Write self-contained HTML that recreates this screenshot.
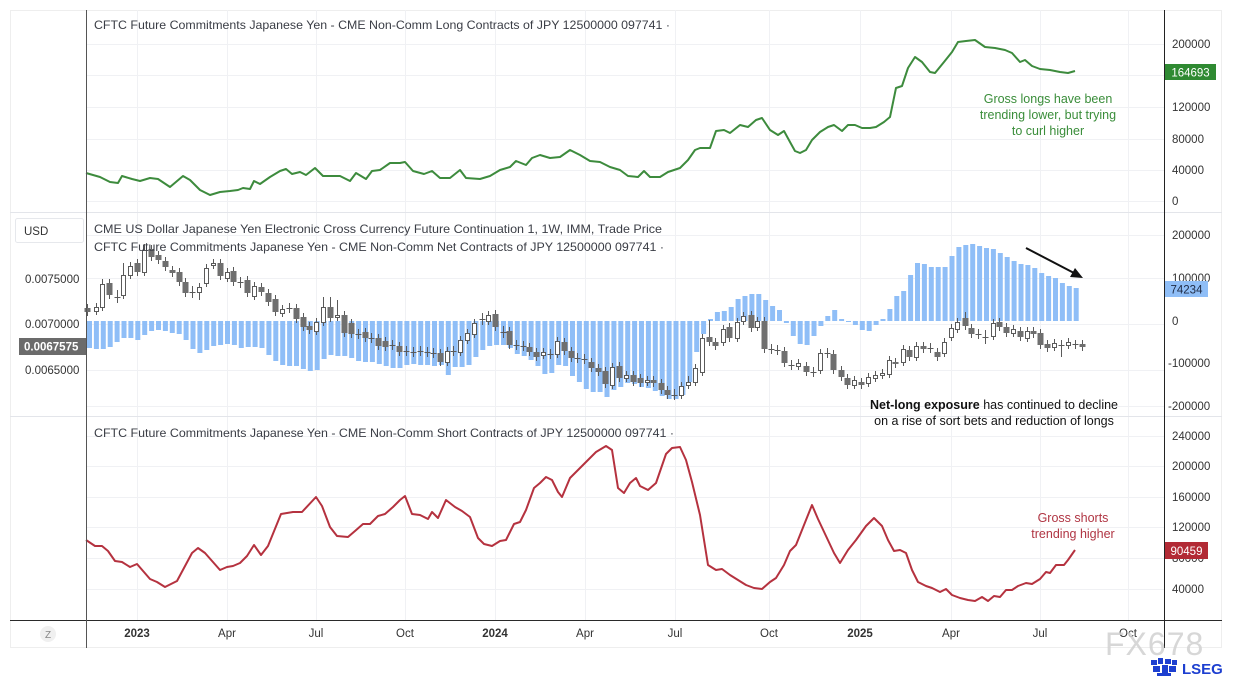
<!DOCTYPE html>
<html><head><meta charset="utf-8">
<style>
html,body{margin:0;padding:0;background:#fff;}
svg{display:block;font-family:"Liberation Sans",Arial,sans-serif;}
</style></head>
<body>
<svg width="1233" height="678" viewBox="0 0 1233 678" xmlns="http://www.w3.org/2000/svg">
<rect x="0" y="0" width="1233" height="678" fill="#fff"/>
<rect x="10.5" y="10.5" width="1211" height="637" fill="none" stroke="#eeeeee"/>
<g stroke="#f0f1f4" stroke-width="1">
<line x1="137.5" y1="10" x2="137.5" y2="620"/><line x1="227.5" y1="10" x2="227.5" y2="620"/><line x1="316.5" y1="10" x2="316.5" y2="620"/><line x1="405.5" y1="10" x2="405.5" y2="620"/><line x1="495.5" y1="10" x2="495.5" y2="620"/><line x1="585.5" y1="10" x2="585.5" y2="620"/><line x1="675.5" y1="10" x2="675.5" y2="620"/><line x1="769.5" y1="10" x2="769.5" y2="620"/><line x1="860.5" y1="10" x2="860.5" y2="620"/><line x1="951.5" y1="10" x2="951.5" y2="620"/><line x1="1040.5" y1="10" x2="1040.5" y2="620"/><line x1="1128.5" y1="10" x2="1128.5" y2="620"/>
<line x1="86" y1="44.5" x2="1164" y2="44.5"/><line x1="86" y1="75.5" x2="1164" y2="75.5"/><line x1="86" y1="107.5" x2="1164" y2="107.5"/><line x1="86" y1="139.5" x2="1164" y2="139.5"/><line x1="86" y1="170.5" x2="1164" y2="170.5"/><line x1="86" y1="201.5" x2="1164" y2="201.5"/>
<line x1="86" y1="235.5" x2="1164" y2="235.5"/><line x1="86" y1="278.5" x2="1164" y2="278.5"/><line x1="86" y1="324.5" x2="1164" y2="324.5"/><line x1="86" y1="370.5" x2="1164" y2="370.5"/><line x1="86" y1="406.5" x2="1164" y2="406.5"/>
<line x1="86" y1="436.5" x2="1164" y2="436.5"/><line x1="86" y1="466.5" x2="1164" y2="466.5"/><line x1="86" y1="497.5" x2="1164" y2="497.5"/><line x1="86" y1="527.5" x2="1164" y2="527.5"/><line x1="86" y1="558.5" x2="1164" y2="558.5"/><line x1="86" y1="589.5" x2="1164" y2="589.5"/>
</g>

<!-- net bars -->
<path fill="#8fbef7" d="M87 321V348h5V321zM93.9 321V349h5V321zM100.8 321V349h5V321zM107.7 321V347h5V321zM114.6 321V342h5V321zM121.5 321V338h5V321zM128.4 321V338h5V321zM135.3 321V340h5V321zM142.2 321V335h5V321zM149.1 321V331h5V321zM156 321V330h5V321zM162.9 321V331h5V321zM169.8 321V333h5V321zM176.7 321V334h5V321zM183.6 321V340h5V321zM190.5 321V349h5V321zM197.4 321V353h5V321zM204.3 321V350h5V321zM211.2 321V346h5V321zM218.1 321V345h5V321zM225 321V344h5V321zM231.9 321V345h5V321zM238.8 321V348h5V321zM245.7 321V347h5V321zM252.6 321V347h5V321zM259.5 321V348h5V321zM266.4 321V355h5V321zM273.3 321V361h5V321zM280.2 321V365h5V321zM287.1 321V366h5V321zM294 321V366h5V321zM300.9 321V369h5V321zM307.8 321V371h5V321zM314.7 321V370h5V321zM321.6 321V359h5V321zM328.5 321V355h5V321zM335.4 321V356h5V321zM342.3 321V356h5V321zM349.2 321V358h5V321zM356.1 321V361h5V321zM363 321V362h5V321zM369.9 321V362h5V321zM376.8 321V364h5V321zM383.7 321V366h5V321zM390.6 321V368h5V321zM397.5 321V368h5V321zM404.4 321V365h5V321zM411.3 321V364h5V321zM418.2 321V365h5V321zM425.1 321V365h5V321zM432 321V366h5V321zM438.9 321V365h5V321zM445.8 321V375h5V321zM452.7 321V367h5V321zM459.6 321V367h5V321zM466.5 321V365h5V321zM473.4 321V357h5V321zM480.3 321V350h5V321zM487.2 321V346h5V321zM494.1 321V345h5V321zM501 321V345h5V321zM507.9 321V348h5V321zM514.8 321V354h5V321zM521.7 321V356h5V321zM528.6 321V360h5V321zM535.5 321V366h5V321zM542.4 321V374h5V321zM549.3 321V373h5V321zM556.2 321V365h5V321zM563.1 321V366h5V321zM570 321V376h5V321zM576.9 321V382h5V321zM583.8 321V389h5V321zM590.7 321V392h5V321zM597.6 321V392h5V321zM604.5 321V397h5V321zM611.4 321V390h5V321zM618.3 321V387h5V321zM625.2 321V383h5V321zM632.1 321V384h5V321zM639 321V387h5V321zM645.9 321V388h5V321zM652.8 321V391h5V321zM659.7 321V396h5V321zM666.6 321V399h5V321zM673.5 321V399h5V321zM680.4 321V395h5V321zM687.3 321V382h5V321zM694.2 321V352h5V321zM701.1 321V334h5V321zM708 321V319h5V321zM714.9 321V312h5V321zM721.8 321V311h5V321zM728.7 321V307h5V321zM735.6 321V299h5V321zM742.5 321V296h5V321zM749.4 321V294h5V321zM756.3 321V294h5V321zM763.2 321V300h5V321zM770.1 321V306h5V321zM777 321V310h5V321zM783.9 321V323h5V321zM790.8 321V336h5V321zM797.7 321V344h5V321zM804.6 321V345h5V321zM811.5 321V336h5V321zM818.4 321V326h5V321zM825.3 321V316h5V321zM832.2 321V310h5V321zM839.1 321V319h5V321zM846 321V322h5V321zM852.9 321V325h5V321zM859.8 321V330h5V321zM866.7 321V331h5V321zM873.6 321V325h5V321zM880.5 321V319h5V321zM887.4 321V309h5V321zM894.3 321V296h5V321zM901.2 321V291h5V321zM908.1 321V275h5V321zM915 321V263h5V321zM921.9 321V264h5V321zM928.8 321V267h5V321zM935.7 321V267h5V321zM942.6 321V267h5V321zM949.5 321V256h5V321zM956.4 321V247h5V321zM963.3 321V245h5V321zM970.2 321V244h5V321zM977.1 321V246h5V321zM984 321V248h5V321zM990.9 321V249h5V321zM997.8 321V253h5V321zM1004.7 321V257h5V321zM1011.6 321V261h5V321zM1018.5 321V264h5V321zM1025.4 321V265h5V321zM1032.3 321V268h5V321zM1039.2 321V273h5V321zM1046.1 321V276h5V321zM1053 321V278h5V321zM1059.9 321V283h5V321zM1066.8 321V286h5V321zM1073.7 321V288h5V321z"/>

<!-- candle wicks -->
<path fill="none" stroke="#5a5a5a" stroke-width="1" d="M87.5 304V316M96.5 303V315M102.5 279V311M109.5 279V299M117.5 290V303M123.5 263V299M130.5 262V279M137.5 259V276M144.5 244V276M151.5 245V261M158.5 251V264M165.5 257V271M172.5 266V277M179.5 268V286M185.5 278V297M192.5 286V298M199.5 283V300M206.5 264V287M213.5 259V269M220.5 259V280M227.5 268V282M233.5 267V286M240.5 277V288M247.5 276V297M254.5 282V300M261.5 283V296M268.5 289V306M275.5 295V316M282.5 305V317M289.5 303V313M296.5 304V323M303.5 313V331M309.5 322V334M316.5 318V335M323.5 297V326M330.5 297V322M337.5 300V321M344.5 311V337M351.5 319V338M358.5 329V339M365.5 328V342M371.5 333V343M378.5 334V350M385.5 337V351M392.5 340V350M399.5 342V356M406.5 346V356M413.5 347V357M420.5 346V356M427.5 347V357M433.5 348V358M440.5 349V366M447.5 347V366M453.5 346V356M460.5 336V356M467.5 329V344M474.5 319V338M482.5 313V325M488.5 311V325M495.5 310V331M503.5 326V338M509.5 327V349M516.5 340V350M523.5 341V351M529.5 343V356M536.5 348V361M543.5 348V359M550.5 349V359M557.5 337V358M564.5 338V355M571.5 347V362M577.5 353V363M584.5 354V364M591.5 358V372M598.5 364V376M605.5 367V388M612.5 363V389M619.5 362V382M626.5 371V382M633.5 371V386M640.5 374V387M647.5 376V386M653.5 376V387M661.5 379V394M667.5 386V399M674.5 389V400M681.5 382V399M688.5 376V389M695.5 364V386M702.5 334V376M709.5 320V346M715.5 338V350M723.5 325V346M729.5 323V342M737.5 318V342M743.5 312V325M751.5 311V332M757.5 317V331M764.5 317V353M771.5 344V354M777.5 345V355M784.5 347V367M791.5 360V370M798.5 359V370M806.5 362V376M813.5 367V377M820.5 349V374M827.5 348V358M833.5 350V374M841.5 366V381M847.5 374V389M854.5 376V389M861.5 378V389M868.5 373V387M875.5 371V382M882.5 369V379M889.5 356V378M895.5 358V368M903.5 345V366M909.5 346V361M916.5 342V361M923.5 342V353M930.5 343V353M937.5 348V361M944.5 338V357M951.5 324V341M957.5 318V333M965.5 312V330M971.5 324V338M978.5 329V339M985.5 330V344M993.5 319V340M999.5 318V331M1006.5 323V337M1013.5 325V337M1020.5 327V341M1027.5 327V342M1033.5 327V338M1040.5 329V349M1047.5 340V352M1054.5 339V351M1061.5 340V357M1068.5 338V349M1075.5 340V349M1082.5 340V351"/>
<!-- crosses -->
<path fill="none" stroke="#5a5a5a" stroke-width="1" d="M114.5 297.5h6M189.5 292.5h6M237.5 282.5h6M286.5 308.5h6M355.5 334.5h6M368.5 338.5h6M389.5 345.5h6M403.5 351.5h6M410.5 352.5h6M417.5 351.5h6M424.5 352.5h6M430.5 353.5h6M450.5 351.5h6M479.5 319.5h6M500.5 332.5h6M513.5 345.5h6M520.5 346.5h6M547.5 354.5h6M574.5 358.5h6M581.5 359.5h6M671.5 395.5h6M768.5 349.5h6M774.5 350.5h6M788.5 365.5h6M810.5 372.5h6M824.5 353.5h6M927.5 348.5h6M975.5 334.5h6M982.5 337.5h6M1058.5 345.5h6M1072.5 344.5h6"/>
<!-- dark bodies -->
<path fill="#6f6f6f" d="M84.5 308h6V312h-6zM106.5 283h6V295h-6zM134.5 263h6V272h-6zM148.5 249h6V257h-6zM155.5 255h6V260h-6zM162.5 261h6V267h-6zM169.5 270h6V273h-6zM176.5 272h6V282h-6zM182.5 282h6V293h-6zM217.5 263h6V276h-6zM230.5 271h6V282h-6zM244.5 280h6V293h-6zM258.5 287h6V292h-6zM265.5 293h6V302h-6zM272.5 299h6V312h-6zM293.5 308h6V319h-6zM300.5 317h6V327h-6zM306.5 326h6V330h-6zM327.5 307h6V318h-6zM341.5 315h6V333h-6zM348.5 323h6V334h-6zM362.5 332h6V338h-6zM375.5 338h6V346h-6zM382.5 341h6V347h-6zM396.5 346h6V352h-6zM437.5 353h6V362h-6zM492.5 314h6V327h-6zM506.5 331h6V345h-6zM526.5 347h6V352h-6zM533.5 352h6V357h-6zM561.5 342h6V351h-6zM568.5 351h6V358h-6zM588.5 362h6V368h-6zM595.5 368h6V372h-6zM602.5 371h6V384h-6zM616.5 366h6V378h-6zM630.5 375h6V382h-6zM637.5 378h6V383h-6zM650.5 380h6V383h-6zM658.5 383h6V390h-6zM664.5 390h6V395h-6zM706.5 337h6V342h-6zM712.5 342h6V346h-6zM726.5 327h6V338h-6zM748.5 315h6V328h-6zM761.5 321h6V349h-6zM781.5 351h6V363h-6zM803.5 366h6V372h-6zM830.5 354h6V370h-6zM838.5 370h6V377h-6zM844.5 378h6V385h-6zM858.5 382h6V385h-6zM892.5 362h6V364h-6zM906.5 350h6V357h-6zM920.5 346h6V349h-6zM934.5 352h6V357h-6zM962.5 318h6V326h-6zM968.5 328h6V334h-6zM996.5 322h6V327h-6zM1003.5 327h6V333h-6zM1017.5 331h6V337h-6zM1030.5 331h6V334h-6zM1037.5 333h6V345h-6zM1044.5 344h6V348h-6zM1079.5 344h6V347h-6z"/>
<!-- white bodies -->
<path fill="#fff" stroke="#5a5a5a" stroke-width="1" d="M94.5 307.5h4V311.5h-4zM100.5 284.5h4V307.5h-4zM121.5 275.5h4V295.5h-4zM128.5 266.5h4V275.5h-4zM142.5 250.5h4V272.5h-4zM197.5 287.5h4V292.5h-4zM204.5 268.5h4V283.5h-4zM211.5 263.5h4V265.5h-4zM225.5 272.5h4V278.5h-4zM252.5 286.5h4V296.5h-4zM280.5 309.5h4V313.5h-4zM314.5 322.5h4V331.5h-4zM321.5 307.5h4V322.5h-4zM335.5 315.5h4V317.5h-4zM445.5 351.5h4V362.5h-4zM458.5 340.5h4V352.5h-4zM465.5 333.5h4V340.5h-4zM472.5 323.5h4V334.5h-4zM486.5 315.5h4V321.5h-4zM541.5 352.5h4V355.5h-4zM555.5 341.5h4V354.5h-4zM610.5 367.5h4V385.5h-4zM624.5 375.5h4V378.5h-4zM645.5 380.5h4V382.5h-4zM679.5 386.5h4V395.5h-4zM686.5 382.5h4V385.5h-4zM693.5 368.5h4V382.5h-4zM700.5 338.5h4V372.5h-4zM721.5 329.5h4V342.5h-4zM735.5 322.5h4V338.5h-4zM741.5 316.5h4V321.5h-4zM755.5 321.5h4V327.5h-4zM796.5 363.5h4V366.5h-4zM818.5 353.5h4V370.5h-4zM852.5 380.5h4V385.5h-4zM866.5 377.5h4V383.5h-4zM873.5 375.5h4V378.5h-4zM880.5 373.5h4V375.5h-4zM887.5 360.5h4V374.5h-4zM901.5 349.5h4V362.5h-4zM914.5 346.5h4V357.5h-4zM942.5 342.5h4V353.5h-4zM949.5 328.5h4V337.5h-4zM955.5 322.5h4V329.5h-4zM991.5 323.5h4V336.5h-4zM1011.5 329.5h4V333.5h-4zM1025.5 331.5h4V338.5h-4zM1052.5 343.5h4V347.5h-4zM1066.5 342.5h4V345.5h-4z"/>

<polyline fill="none" stroke="#3d8b3d" stroke-width="2" stroke-linejoin="round" points="86,173 100,177 110,182 118,183 122,176 132,179 140,181 150,178 158,179 170,187 183,176 190,180 200,190 210,195 220,192 230,191 238,190 243,188 250,189 254,181 260,184 270,177 280,171 286,169 292,174 300,172 306,175 315,168 323,176 332,176 340,176 350,181 356,173 366,179 372,171 380,170 390,163 400,163 405,162 413,171 424,174 432,171 440,178 450,178 460,170 466,178 480,179 490,176 500,170 510,167 516,161 526,165 532,158 540,155 550,158 560,157 570,150 580,155 590,161 600,162 610,167 620,170 628,176 638,177 644,171 650,177 660,177 668,172 680,168 688,160 695,150 700,148 710,148 716,131 724,130 730,133 740,125 748,127 756,120 762,118 770,130 778,135 784,131 790,142 795,151 800,153 806,150 812,140 820,132 828,127 834,125 842,131 848,125 855,125 862,128 870,128 876,127 884,122 890,117 896,88 902,86 908,68 915,57 922,62 930,72 935,73 944,62 952,52 958,42 966,41 975,40 985,47 995,48 1005,50 1012,53 1020,62 1025,60 1032,66 1040,69 1050,70 1060,72 1068,73 1075,71"/>
<polyline fill="none" stroke="#b5323f" stroke-width="2" stroke-linejoin="round" points="86,540 95,546 102,546 108,551 115,561 122,562 130,567 137,564 150,579 157,582 165,587 177,581 192,553 198,548 205,553 220,570 227,567 233,566 240,563 247,556 254,545 261,555 268,546 281,514 293,512 302,512 316,497 322,506 330,527 337,536 348,537 355,531 363,524 370,524 378,516 385,514 393,507 400,500 405,496 412,514 420,515 428,519 432,512 438,518 446,500 455,507 462,511 470,517 478,538 484,544 492,546 500,541 506,540 514,524 520,522 526,510 534,488 540,483 546,477 552,480 558,492 562,497 570,478 580,468 590,458 596,452 606,446 612,450 618,488 624,493 630,483 636,478 640,486 648,490 656,483 666,454 672,448 680,447 686,460 692,482 700,515 708,565 716,570 722,569 730,575 738,580 746,585 754,588 762,589 770,582 776,578 784,565 790,551 796,545 806,520 812,505 818,519 826,536 834,553 840,563 848,550 856,540 866,526 874,518 882,526 888,540 894,551 900,550 906,553 912,570 918,582 926,586 932,588 940,592 946,589 952,595 960,598 968,600 975,601 982,597 988,601 994,596 1000,597 1006,590 1012,590 1018,586 1026,583 1032,584 1040,579 1046,572 1050,573 1056,565 1064,565 1068,560 1075,550"/>

<!-- panel separators & axes -->
<line x1="10" y1="212.5" x2="1222" y2="212.5" stroke="#e3e5ea"/>
<line x1="10" y1="416.5" x2="1222" y2="416.5" stroke="#e3e5ea"/>
<line x1="10" y1="620.5" x2="1222" y2="620.5" stroke="#2a2a2a"/>
<line x1="86.5" y1="10" x2="86.5" y2="648" stroke="#555"/>
<line x1="1164.5" y1="10" x2="1164.5" y2="648" stroke="#222"/>

<!-- titles -->
<g font-size="12" fill="#3a3d45">
<text x="94" y="29" textLength="576" lengthAdjust="spacingAndGlyphs">CFTC Future Commitments Japanese Yen - CME Non-Comm Long Contracts of JPY 12500000 097741 ·</text>
<text x="94" y="233" textLength="568" lengthAdjust="spacingAndGlyphs">CME US Dollar Japanese Yen Electronic Cross Currency Future Continuation 1, 1W, IMM, Trade Price</text>
<text x="94" y="251" textLength="570" lengthAdjust="spacingAndGlyphs">CFTC Future Commitments Japanese Yen - CME Non-Comm Net Contracts of JPY 12500000 097741 ·</text>
<text x="94" y="437" textLength="580" lengthAdjust="spacingAndGlyphs">CFTC Future Commitments Japanese Yen - CME Non-Comm Short Contracts of JPY 12500000 097741 ·</text>
</g>

<!-- right axis -->
<g font-size="11.5" fill="#333">
<text x="1172" y="48">200000</text>
<text x="1172" y="111">120000</text>
<text x="1172" y="143">80000</text>
<text x="1172" y="174">40000</text>
<text x="1172" y="205">0</text>
<text x="1172" y="239">200000</text>
<text x="1172" y="282">100000</text>
<text x="1172" y="325">0</text>
<text x="1168" y="367">-100000</text>
<text x="1168" y="410">-200000</text>
<text x="1172" y="440">240000</text>
<text x="1172" y="470">200000</text>
<text x="1172" y="501">160000</text>
<text x="1172" y="531">120000</text>
<text x="1172" y="562">80000</text>
<text x="1172" y="593">40000</text>
</g>
<rect x="1165" y="64" width="51" height="16" fill="#2f8a32"/>
<text x="1190.5" y="76.5" font-size="11.5" fill="#fff" text-anchor="middle">164693</text>
<rect x="1165" y="281" width="43" height="16" fill="#8fbef7"/>
<text x="1186.5" y="293.5" font-size="11.5" fill="#1f2a44" text-anchor="middle">74234</text>
<rect x="1165" y="542" width="43" height="17" fill="#b22a35"/>
<text x="1186.5" y="555" font-size="11.5" fill="#fff" text-anchor="middle">90459</text>

<!-- left axis -->
<rect x="15.5" y="218.5" width="68" height="24" rx="2" fill="#fff" stroke="#e6e8ec"/>
<text x="24" y="235" font-size="11.5" fill="#333">USD</text>
<g font-size="11.5" fill="#333">
<text x="25" y="283">0.0075000</text>
<text x="25" y="328">0.0070000</text>
<text x="25" y="374">0.0065000</text>
</g>
<rect x="19" y="338" width="67" height="17" fill="#6b6b6b"/>
<text x="24" y="350.5" font-size="11.5" fill="#fff" font-weight="bold">0.0067575</text>

<!-- time axis -->
<circle cx="48" cy="634" r="8" fill="#f0f0f0"/>
<text x="48" y="638" font-size="10" fill="#888" text-anchor="middle">Z</text>
<g font-size="11.5" fill="#333" text-anchor="middle">
<text x="137" y="637" font-weight="bold">2023</text>
<text x="227" y="637">Apr</text>
<text x="316" y="637">Jul</text>
<text x="405" y="637">Oct</text>
<text x="495" y="637" font-weight="bold">2024</text>
<text x="585" y="637">Apr</text>
<text x="675" y="637">Jul</text>
<text x="769" y="637">Oct</text>
<text x="860" y="637" font-weight="bold">2025</text>
<text x="951" y="637">Apr</text>
<text x="1040" y="637">Jul</text>
<text x="1128" y="637">Oct</text>
</g>

<!-- annotations -->
<g font-size="12.5" fill="#3a8d3a" text-anchor="middle">
<text x="1048" y="103">Gross longs have been</text>
<text x="1048" y="119">trending lower, but trying</text>
<text x="1048" y="135">to curl higher</text>
</g>
<g font-size="12.5" fill="#111" text-anchor="middle">
<text x="994" y="409"><tspan font-weight="bold">Net-long exposure</tspan> has continued to decline</text>
<text x="994" y="425">on a rise of sort bets and reduction of longs</text>
</g>
<g font-size="12.5" fill="#b03543" text-anchor="middle">
<text x="1073" y="522">Gross shorts</text>
<text x="1073" y="538">trending higher</text>
</g>
<line x1="1026" y1="248" x2="1074" y2="273" stroke="#111" stroke-width="2"/>
<polygon points="1083,278 1070,277 1075,268" fill="#111"/>

<!-- watermark & logo -->
<text x="1105" y="655" font-size="32" fill="#d0d0d0" fill-opacity="0.85" letter-spacing="1">FX678</text>
<g fill="#1d3fd0">
<rect x="1151" y="660" width="6" height="5"/>
<rect x="1158" y="658" width="5" height="6"/>
<rect x="1165" y="659" width="6" height="5"/>
<rect x="1172" y="660" width="5" height="5"/>
<rect x="1153" y="666" width="7" height="6"/>
<rect x="1162" y="665" width="6" height="8"/>
<rect x="1169" y="666" width="7" height="6"/>
<rect x="1157" y="673" width="14" height="3"/>
</g>
<text x="1182" y="674" font-size="15" font-weight="bold" fill="#1d3fd0">LSEG</text>
</svg>
</body></html>
